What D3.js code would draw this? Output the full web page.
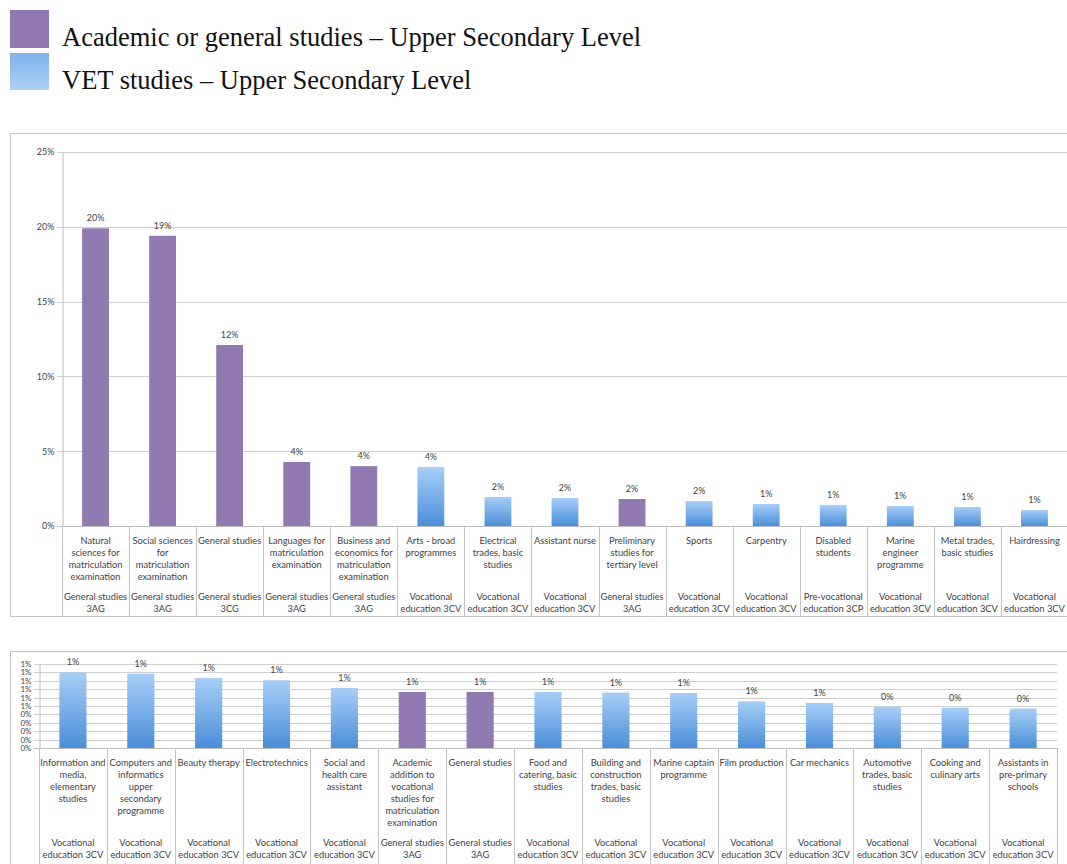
<!DOCTYPE html>
<html>
<head>
<meta charset="utf-8">
<script src="https://cdn.jsdelivr.net/npm/d3@7"></script>
<style>
    html, body { margin: 0; padding: 0; background: #fff; }
    svg { display: block; }
</style>
</head>
<body>
<svg id="svg" width="1067" height="864"></svg>
<script>
/* global d3 */
(function() {
    'use strict';

    // legend
    var legendLabels = ['Academic or general studies \u2013 Upper Secondary Level', 'VET studies \u2013 Upper Secondary Level'];

    // first chart
    var topCategories = [
        'Natural\nsciences for\nmatriculation\nexamination',
        'Social sciences\nfor\nmatriculation\nexamination',
        'General studies',
        'Languages for\nmatriculation\nexamination',
        'Business and\neconomics for\nmatriculation\nexamination',
        'Arts - broad\nprogrammes',
        'Electrical\ntrades, basic\nstudies',
        'Assistant nurse',
        'Preliminary\nstudies for\ntertiary level',
        'Sports',
        'Carpentry',
        'Disabled\nstudents',
        'Marine\nengineer\nprogramme',
        'Metal trades,\nbasic studies',
        'Hairdressing'
    ];
    var topGroups = [
        'General studies\n3AG', 'General studies\n3AG', 'General studies\n3CG', 'General studies\n3AG', 'General studies\n3AG',
        'Vocational\neducation 3CV', 'Vocational\neducation 3CV', 'Vocational\neducation 3CV', 'General studies\n3AG',
        'Vocational\neducation 3CV', 'Vocational\neducation 3CV', 'Pre-vocational\neducation 3CP', 'Vocational\neducation 3CV',
        'Vocational\neducation 3CV', 'Vocational\neducation 3CV'
    ];
    var topValues = [0.199, 0.194, 0.121, 0.0428, 0.0400, 0.0395, 0.0194, 0.0187, 0.0180, 0.0167, 0.0147, 0.0140, 0.0134, 0.0127, 0.0107];
    var topTicks = [0, 0.05, 0.10, 0.15, 0.20, 0.25];

    // second chart
    var bottomCategories = [
        'Information and\nmedia,\nelementary\nstudies',
        'Computers and\ninformatics\nupper\nsecondary\nprogramme',
        'Beauty therapy',
        'Electrotechnics',
        'Social and\nhealth care\nassistant',
        'Academic\naddition to\nvocational\nstudies for\nmatriculation\nexamination',
        'General studies',
        'Food and\ncatering, basic\nstudies',
        'Building and\nconstruction\ntrades, basic\nstudies',
        'Marine captain\nprogramme',
        'Film production',
        'Car mechanics',
        'Automotive\ntrades, basic\nstudies',
        'Cooking and\nculinary arts',
        'Assistants in\npre-primary\nschools'
    ];
    var bottomGroups = [
        'Vocational\neducation 3CV', 'Vocational\neducation 3CV', 'Vocational\neducation 3CV', 'Vocational\neducation 3CV',
        'Vocational\neducation 3CV', 'General studies\n3AG', 'General studies\n3AG', 'Vocational\neducation 3CV',
        'Vocational\neducation 3CV', 'Vocational\neducation 3CV', 'Vocational\neducation 3CV', 'Vocational\neducation 3CV',
        'Vocational\neducation 3CV', 'Vocational\neducation 3CV', 'Vocational\neducation 3CV'
    ];
    var bottomValues = [0.0090, 0.00885, 0.00833, 0.00806, 0.00714, 0.00667, 0.00667, 0.00667, 0.00660, 0.00655, 0.00556, 0.00536, 0.00490, 0.00480, 0.00470];
    var bottomTicks = [0, 0.001, 0.002, 0.003, 0.004, 0.005, 0.006, 0.007, 0.008, 0.009, 0.010];

    var purple = '#9179b1';
    var textColor = '#3f3f3f';
    var labelFont = 'Lato, "Open Sans", sans-serif';

    var svg = d3.select('#svg');
    var defs = svg.append('defs');

    //bar gradient, light at the top
    var barGrad = defs.append('linearGradient')
        .attr('id', 'barGrad')
        .attr('x1', 0).attr('y1', 0).attr('x2', 0).attr('y2', 1);
    barGrad.append('stop').attr('offset', '0%').attr('stop-color', '#a7cef8');
    barGrad.append('stop').attr('offset', '100%').attr('stop-color', '#4a8fd8');

    //legend swatch gradient, darker at the top
    var legGrad = defs.append('linearGradient')
        .attr('id', 'legGrad')
        .attr('x1', 0).attr('y1', 0).attr('x2', 0).attr('y2', 1);
    legGrad.append('stop').attr('offset', '0%').attr('stop-color', '#7fb3ea');
    legGrad.append('stop').attr('offset', '100%').attr('stop-color', '#abd1f6');

    function isGeneral(g) {
        return g.indexOf('General studies') === 0;
    }

    //legend
    var legend = svg.append('g');
    legend.selectAll('rect')
        .data(legendLabels)
        .enter()
        .append('rect')
        .attr('x', 10)
        .attr('y', function(d, i) { return i === 0 ? 10 : 53; })
        .attr('width', 39)
        .attr('height', function(d, i) { return i === 0 ? 38 : 37; })
        .attr('fill', function(d, i) { return i === 0 ? purple : 'url(#legGrad)'; });
    legend.selectAll('text')
        .data(legendLabels)
        .enter()
        .append('text')
        .attr('x', 62)
        .attr('y', function(d, i) { return i === 0 ? 46 : 89; })
        .attr('font-family', '"Liberation Serif", "Times New Roman", serif')
        .attr('font-size', 26.5)
        .attr('fill', '#111')
        .text(function(d) { return d; });

    function multiline(sel, str, x, y0) {
        str.split('\n').forEach(function(line, k) {
            sel.append('text')
                .attr('x', x)
                .attr('y', y0 + k * 12)
                .attr('text-anchor', 'middle')
                .text(line);
        });
    }

    function drawChart(o) {
        var g = svg.append('g');

        //panel frame
        g.append('rect')
            .attr('x', o.frame[0] + 0.5)
            .attr('y', o.frame[1] + 0.5)
            .attr('width', o.frame[2])
            .attr('height', o.frame[3])
            .attr('fill', 'none')
            .attr('stroke', '#c3c3c3');

        var x = d3.scaleBand()
            .domain(d3.range(o.values.length))
            .range([o.left, o.right])
            .paddingInner(0.6)
            .paddingOuter(0.3);

        var y = d3.scaleLinear()
            .domain([0, o.ticks[o.ticks.length - 1]])
            .range([o.bottom, o.top]);

        //gridlines
        g.append('g')
            .selectAll('line')
            .data(o.ticks)
            .enter()
            .append('line')
            .attr('x1', o.left - 5)
            .attr('x2', o.right)
            .attr('y1', function(d) { return Math.round(y(d)) + 0.5; })
            .attr('y2', function(d) { return Math.round(y(d)) + 0.5; })
            .attr('stroke', function(d) { return d === 0 ? '#bcbcbc' : '#cfcfcf'; })
            .attr('stroke-width', 1);

        //y axis
        var yAxis = g.append('g')
            .attr('transform', 'translate(' + (o.left + 0.5) + ',0)')
            .call(d3.axisLeft(y).tickValues(o.ticks).tickFormat(d3.format('.0%')).tickSize(0).tickPadding(8));
        yAxis.select('.domain').attr('stroke', '#bcbcbc');
        yAxis.selectAll('text')
            .attr('font-family', labelFont)
            .attr('font-size', o.yFont)
            .attr('fill', textColor);

        //bars
        g.append('g')
            .selectAll('rect')
            .data(o.values)
            .enter()
            .append('rect')
            .attr('x', function(d, i) { return x(i); })
            .attr('y', function(d) { return y(d); })
            .attr('width', x.bandwidth())
            .attr('height', function(d) { return o.bottom - y(d); })
            .attr('fill', function(d, i) { return isGeneral(o.groups[i]) ? purple : 'url(#barGrad)'; });

        //value labels
        g.append('g')
            .selectAll('text')
            .data(o.values)
            .enter()
            .append('text')
            .attr('x', function(d, i) { return x(i) + x.bandwidth() / 2; })
            .attr('y', function(d) { return y(d) - 7; })
            .attr('text-anchor', 'middle')
            .attr('font-family', labelFont)
            .attr('font-size', 9)
            .attr('fill', textColor)
            .text(function(d) { return d3.format('.0%')(d); });

        //category separators
        var step = x.step();
        g.append('g')
            .selectAll('line')
            .data(d3.range(o.values.length + 1))
            .enter()
            .append('line')
            .attr('x1', function(i) { return Math.round(o.left + i * step) + 0.5; })
            .attr('x2', function(i) { return Math.round(o.left + i * step) + 0.5; })
            .attr('y1', o.bottom)
            .attr('y2', o.frame[1] + o.frame[3])
            .attr('stroke', '#c3c3c3');

        //category labels
        var maxLines = d3.max(o.categories, function(c) { return c.split('\n').length; });
        var labels = g.append('g')
            .attr('font-family', labelFont)
            .attr('font-size', 9.3)
            .attr('fill', textColor);
        o.categories.forEach(function(c, i) {
            var cx = o.left + (i + 0.5) * step;
            multiline(labels, c, cx, o.bottom + 17.5);
            multiline(labels, o.groups[i], cx, o.bottom + 17.5 + maxLines * 12 + 8.5);
        });
    }

    drawChart({
        categories: topCategories,
        groups: topGroups,
        values: topValues,
        ticks: topTicks,
        frame: [10, 133, 1070, 483],
        left: 62,
        right: 1068,
        top: 152,
        bottom: 526,
        yFont: 9
    });

    drawChart({
        categories: bottomCategories,
        groups: bottomGroups,
        values: bottomValues,
        ticks: bottomTicks,
        frame: [10, 651, 1070, 300],
        left: 39,
        right: 1057,
        top: 664,
        bottom: 748,
        yFont: 8
    });

})();
</script>
</body>
</html>
